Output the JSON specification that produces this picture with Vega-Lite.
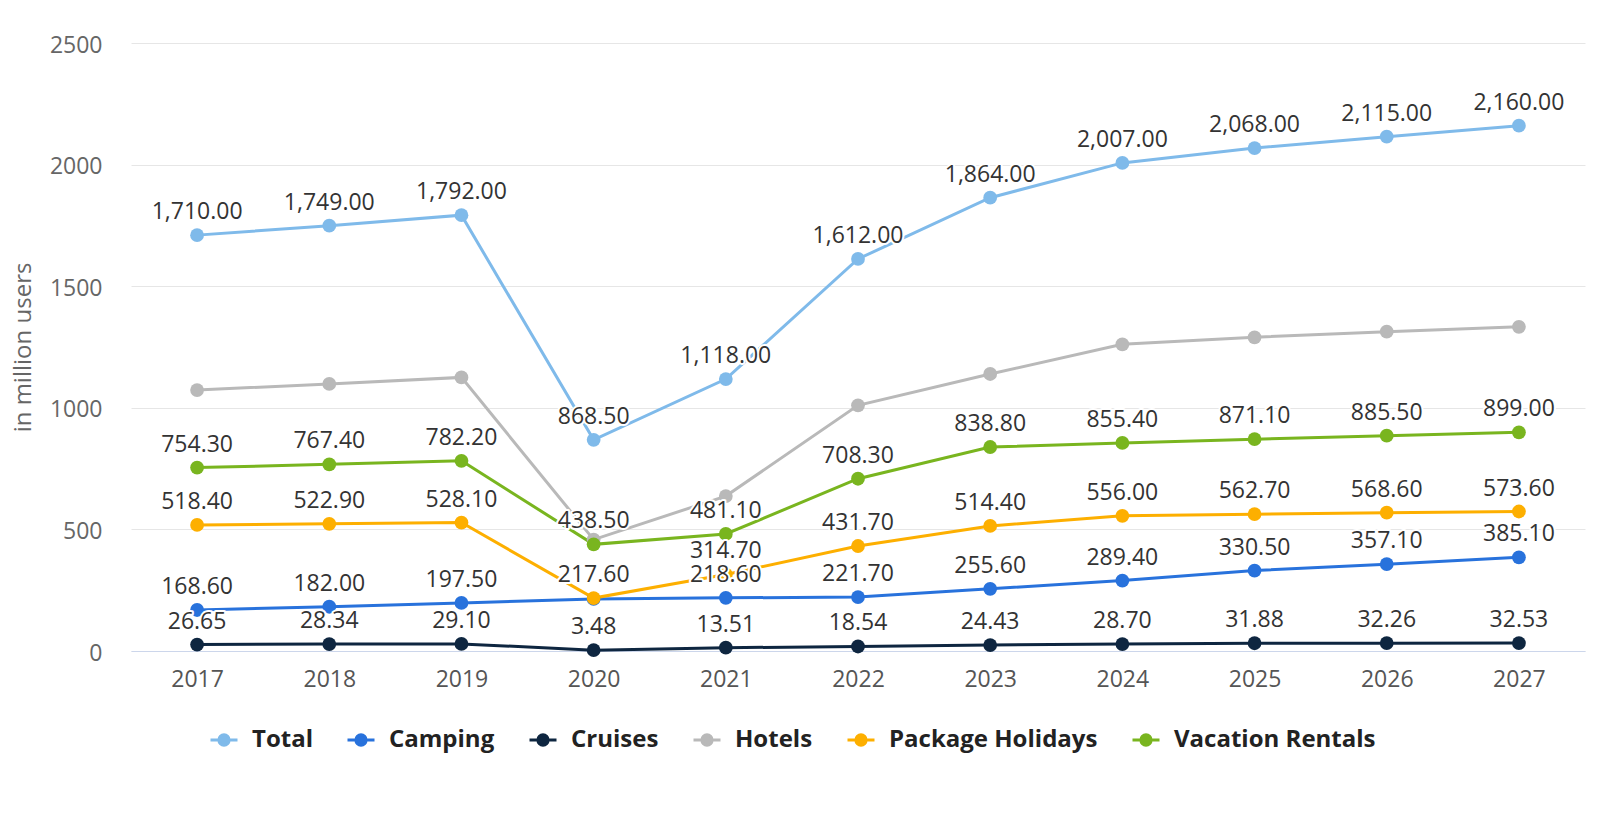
{
  "$schema": "https://vega.github.io/schema/vega-lite/v6.json",
  "width": 1454,
  "height": 608,
  "autosize": {"type": "none"},
  "padding": {"left": 131, "top": 43, "right": 15, "bottom": 163},
  "background": "white",
  "config": {"font": "Open Sans", "view": {"stroke": null}},
  "data": {
    "values": [
      {"year": "2017", "series": "Total", "value": 1710},
      {"year": "2018", "series": "Total", "value": 1749},
      {"year": "2019", "series": "Total", "value": 1792},
      {"year": "2020", "series": "Total", "value": 868.5},
      {"year": "2021", "series": "Total", "value": 1118},
      {"year": "2022", "series": "Total", "value": 1612},
      {"year": "2023", "series": "Total", "value": 1864},
      {"year": "2024", "series": "Total", "value": 2007},
      {"year": "2025", "series": "Total", "value": 2068},
      {"year": "2026", "series": "Total", "value": 2115},
      {"year": "2027", "series": "Total", "value": 2160},
      {"year": "2017", "series": "Camping", "value": 168.6},
      {"year": "2018", "series": "Camping", "value": 182},
      {"year": "2019", "series": "Camping", "value": 197.5},
      {"year": "2020", "series": "Camping", "value": 214},
      {"year": "2021", "series": "Camping", "value": 218.6},
      {"year": "2022", "series": "Camping", "value": 221.7},
      {"year": "2023", "series": "Camping", "value": 255.6},
      {"year": "2024", "series": "Camping", "value": 289.4},
      {"year": "2025", "series": "Camping", "value": 330.5},
      {"year": "2026", "series": "Camping", "value": 357.1},
      {"year": "2027", "series": "Camping", "value": 385.1},
      {"year": "2017", "series": "Cruises", "value": 26.65},
      {"year": "2018", "series": "Cruises", "value": 28.34},
      {"year": "2019", "series": "Cruises", "value": 29.1},
      {"year": "2020", "series": "Cruises", "value": 3.48},
      {"year": "2021", "series": "Cruises", "value": 13.51},
      {"year": "2022", "series": "Cruises", "value": 18.54},
      {"year": "2023", "series": "Cruises", "value": 24.43},
      {"year": "2024", "series": "Cruises", "value": 28.7},
      {"year": "2025", "series": "Cruises", "value": 31.88},
      {"year": "2026", "series": "Cruises", "value": 32.26},
      {"year": "2027", "series": "Cruises", "value": 32.53},
      {"year": "2017", "series": "Hotels", "value": 1073},
      {"year": "2018", "series": "Hotels", "value": 1098},
      {"year": "2019", "series": "Hotels", "value": 1125},
      {"year": "2020", "series": "Hotels", "value": 458},
      {"year": "2021", "series": "Hotels", "value": 637},
      {"year": "2022", "series": "Hotels", "value": 1010},
      {"year": "2023", "series": "Hotels", "value": 1139},
      {"year": "2024", "series": "Hotels", "value": 1261},
      {"year": "2025", "series": "Hotels", "value": 1290},
      {"year": "2026", "series": "Hotels", "value": 1313},
      {"year": "2027", "series": "Hotels", "value": 1333},
      {"year": "2017", "series": "Package Holidays", "value": 518.4},
      {"year": "2018", "series": "Package Holidays", "value": 522.9},
      {"year": "2019", "series": "Package Holidays", "value": 528.1},
      {"year": "2020", "series": "Package Holidays", "value": 217.6},
      {"year": "2021", "series": "Package Holidays", "value": 314.7},
      {"year": "2022", "series": "Package Holidays", "value": 431.7},
      {"year": "2023", "series": "Package Holidays", "value": 514.4},
      {"year": "2024", "series": "Package Holidays", "value": 556},
      {"year": "2025", "series": "Package Holidays", "value": 562.7},
      {"year": "2026", "series": "Package Holidays", "value": 568.6},
      {"year": "2027", "series": "Package Holidays", "value": 573.6},
      {"year": "2017", "series": "Vacation Rentals", "value": 754.3},
      {"year": "2018", "series": "Vacation Rentals", "value": 767.4},
      {"year": "2019", "series": "Vacation Rentals", "value": 782.2},
      {"year": "2020", "series": "Vacation Rentals", "value": 438.5},
      {"year": "2021", "series": "Vacation Rentals", "value": 481.1},
      {"year": "2022", "series": "Vacation Rentals", "value": 708.3},
      {"year": "2023", "series": "Vacation Rentals", "value": 838.8},
      {"year": "2024", "series": "Vacation Rentals", "value": 855.4},
      {"year": "2025", "series": "Vacation Rentals", "value": 871.1},
      {"year": "2026", "series": "Vacation Rentals", "value": 885.5},
      {"year": "2027", "series": "Vacation Rentals", "value": 899}
    ]
  },
  "encoding": {
    "x": {
      "field": "year",
      "type": "ordinal",
      "scale": {"type": "point", "padding": 0.5},
      "axis": {
        "title": null,
        "labelAngle": 0,
        "labelFontSize": 23,
        "labelColor": "#555555",
        "labelPadding": 17,
        "ticks": false,
        "tickSize": 0,
        "domainColor": "#ccd6eb",
        "domainWidth": 1,
        "grid": false
      }
    },
    "y": {
      "field": "value",
      "type": "quantitative",
      "scale": {"domain": [0, 2500], "nice": false},
      "axis": {
        "title": "in million users",
        "titleFontSize": 24,
        "titleFontWeight": "normal",
        "titleColor": "#666666",
        "titlePadding": 14,
        "labelFontSize": 23,
        "labelColor": "#666666",
        "labelPadding": 29,
        "labelOffset": 2,
        "ticks": false,
        "tickSize": 0,
        "domain": false,
        "gridColor": "#e6e6e6",
        "gridWidth": 1,
        "values": [0, 500, 1000, 1500, 2000, 2500],
        "format": "d"
      }
    },
    "color": {
      "field": "series",
      "type": "nominal",
      "scale": {
        "domain": ["Total", "Camping", "Cruises", "Hotels", "Package Holidays", "Vacation Rentals"],
        "range": ["#7fbaea", "#2872dc", "#0e2640", "#b9b9b9", "#fdaf00", "#79b51f"]
      },
      "legend": {
        "title": null,
        "orient": "none",
        "legendX": 78,
        "legendY": 682,
        "direction": "horizontal",
        "columns": 6,
        "padding": 0,
        "symbolType": "M-1,0L1,0M-0.38,0A0.38,0.38,0,1,0,0.38,0A0.38,0.38,0,1,0,-0.38,0Z",
        "symbolSize": 729,
        "symbolStrokeWidth": 3,
        "symbolOpacity": 1,
        "labelFontSize": 24,
        "labelFontWeight": "bold",
        "labelColor": "#222222",
        "labelLimit": 300,
        "labelOffset": 13,
        "columnPadding": 28,
        "encode": {
          "symbols": {
            "update": {
              "fill": {"scale": "color", "field": "value"},
              "stroke": {"scale": "color", "field": "value"},
              "opacity": {"value": 1}
            }
          }
        }
      }
    }
  },
  "layer": [
    {"mark": {"type": "line", "strokeWidth": 3}},
    {"mark": {"type": "point", "filled": true, "size": 190, "opacity": 1}},
    {
      "transform": [{"filter": "datum.series != 'Hotels' && !(datum.series == 'Camping' && datum.year == '2020')"}],
      "mark": {"type": "text", "dy": -23, "fontSize": 23, "stroke": "white", "strokeWidth": 4, "strokeJoin": "round"},
      "encoding": {"text": {"field": "value", "format": ",.2f"}, "color": {"value": "white"}}
    },
    {
      "transform": [{"filter": "datum.series != 'Hotels' && !(datum.series == 'Camping' && datum.year == '2020')"}],
      "mark": {"type": "text", "dy": -23, "fontSize": 23},
      "encoding": {"text": {"field": "value", "format": ",.2f"}, "color": {"value": "#333333"}}
    }
  ]
}
